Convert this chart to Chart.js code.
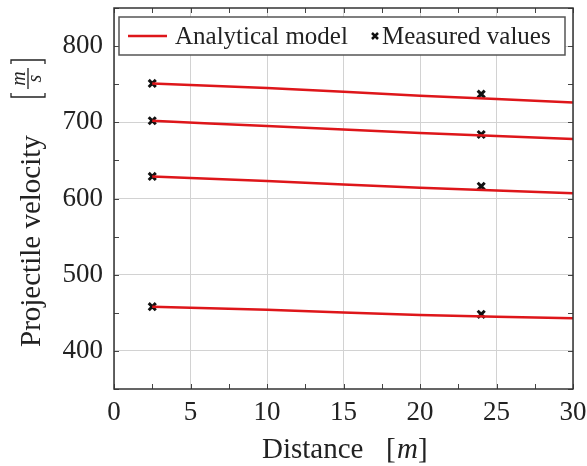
<!DOCTYPE html>
<html>
<head>
<meta charset="utf-8">
<script src="https://cdn.jsdelivr.net/npm/chart.js@4"></script>
<style>
  html, body { margin: 0; padding: 0; background: #fff; }
  #wrap { width: 587px; height: 466px; }
</style>
</head>
<body>
<div id="wrap"><canvas id="velocityChart" width="587" height="466"></canvas></div>
<script>
const modelX = [2.5, 10, 20, 30];
// analytical model, one curve per charge
const model1 = [751, 745, 735, 726];
const model2 = [702, 695, 686, 678];
const model3 = [629, 623, 614, 607];
const model4 = [458, 454, 447, 443];

// measured points
const measuredX = [2.5, 24];
const measured1 = [751, 737];
const measured2 = [702, 684];
const measured3 = [629, 616];
const measured4 = [458, 448];

const xTicks = [0, 5, 10, 15, 20, 25, 30];
const yTicks = [400, 500, 600, 700, 800];
const xMinor = [2.5, 7.5, 12.5, 17.5, 22.5, 27.5];
const yMinor = [350, 450, 550, 650, 750, 850];

const serif = "'Liberation Serif', 'DejaVu Serif', serif";
const red = 'rgb(222, 22, 26)';

function toPoints(xs, ys) {
    return xs.map((x, i) => ({ x: x, y: ys[i] }));
}

const modelSets = [model1, model2, model3, model4].map(ys => ({
    label: 'Analytical model',
    data: toPoints(modelX, ys),
    borderColor: red,
    borderWidth: 2.5,
    pointRadius: 0,
    fill: false,
    tension: 0.3
}));

const measuredSets = [measured1, measured2, measured3, measured4].map(ys => ({
    label: 'Measured values',
    data: toPoints(measuredX, ys),
    showLine: false,
    pointStyle: 'crossRot',
    pointRadius: 5,
    pointBorderWidth: 3,
    borderColor: '#111',
    backgroundColor: '#111'
}));

// frame, inner ticks (pgfplots style), axis titles and the boxed legend
const framePlugin = {
    id: 'frame',
    afterDatasetsDraw(chart) {
        const { ctx, chartArea: a, scales } = chart;
        ctx.save();
        ctx.strokeStyle = '#444';
        ctx.lineWidth = 1;
        const tick = 5;
        ctx.beginPath();
        xTicks.concat(xMinor).forEach(v => {
            const px = Math.round(scales.x.getPixelForValue(v)) + 0.5;
            ctx.moveTo(px, a.bottom); ctx.lineTo(px, a.bottom - tick);
            ctx.moveTo(px, a.top); ctx.lineTo(px, a.top + tick);
        });
        yTicks.concat(yMinor).forEach(v => {
            const py = Math.round(scales.y.getPixelForValue(v)) + 0.5;
            ctx.moveTo(a.left, py); ctx.lineTo(a.left + tick, py);
            ctx.moveTo(a.right, py); ctx.lineTo(a.right - tick, py);
        });
        ctx.stroke();

        ctx.lineWidth = 1.5;
        ctx.strokeStyle = '#333';
        ctx.strokeRect(a.left, a.top, a.right - a.left, a.bottom - a.top);

        // legend
        const lx = 119, ly = 17, lw = 446, lh = 38;
        ctx.fillStyle = '#fff';
        ctx.fillRect(lx, ly, lw, lh);
        ctx.lineWidth = 1.5;
        ctx.strokeStyle = '#555';
        ctx.strokeRect(lx, ly, lw, lh);
        const cy = 36;
        ctx.strokeStyle = red;
        ctx.lineWidth = 2.5;
        ctx.beginPath();
        ctx.moveTo(128, cy); ctx.lineTo(167, cy);
        ctx.stroke();
        ctx.strokeStyle = '#111';
        ctx.lineWidth = 2.5;
        ctx.beginPath();
        ctx.moveTo(372, cy - 3); ctx.lineTo(378, cy + 3);
        ctx.moveTo(372, cy + 3); ctx.lineTo(378, cy - 3);
        ctx.stroke();
        ctx.fillStyle = '#222';
        ctx.font = '25px ' + serif;
        ctx.textBaseline = 'alphabetic';
        ctx.fillText(modelSets[0].label, 175, 44);
        ctx.fillText(measuredSets[0].label, 382, 44);
        ctx.restore();
    },
    afterDraw(chart) {
        const { ctx } = chart;
        ctx.save();
        ctx.fillStyle = '#222';
        ctx.strokeStyle = '#222';
        ctx.textBaseline = 'alphabetic';

        // x title: Distance [m]
        ctx.font = '29px ' + serif;
        ctx.fillText('Distance', 262, 458);
        ctx.fillText('[', 386, 458);
        ctx.font = 'italic 29px ' + serif;
        ctx.fillText('m', 397, 458);
        ctx.font = '29px ' + serif;
        ctx.fillText(']', 418, 458);

        // y title: Projectile velocity [m/s] with stacked fraction
        ctx.translate(40, 347);
        ctx.rotate(-Math.PI / 2);
        ctx.font = '29px ' + serif;
        ctx.fillText('Projectile velocity', 0, 0);
        ctx.lineWidth = 1.3;
        ctx.beginPath();
        // brackets
        ctx.moveTo(254, -29); ctx.lineTo(250, -29); ctx.lineTo(250, 5); ctx.lineTo(254, 5);
        ctx.moveTo(283, -29); ctx.lineTo(287, -29); ctx.lineTo(287, 5); ctx.lineTo(283, 5);
        // fraction bar
        ctx.moveTo(258, -12); ctx.lineTo(279, -12);
        ctx.stroke();
        ctx.font = 'italic 20px ' + serif;
        ctx.textAlign = 'center';
        ctx.fillText('m', 268.5, -15);
        ctx.fillText('s', 268.5, 1);
        ctx.restore();
    }
};

const ctx = document.getElementById('velocityChart').getContext('2d');
new Chart(ctx, {
    type: 'line',
    data: { datasets: modelSets.concat(measuredSets) },
    options: {
        responsive: false,
        animation: false,
        layout: { padding: { left: 0, right: 14, top: 8, bottom: 0 } },
        plugins: { legend: { display: false }, tooltip: { enabled: false } },
        scales: {
            x: {
                type: 'linear',
                min: 0,
                max: 30,
                afterFit: s => { s.height = 77; s.paddingLeft = 0; s.paddingRight = 0; },
                afterBuildTicks: s => { s.ticks = xTicks.map(v => ({ value: v })); },
                grid: { color: '#d2d2d2', drawTicks: false },
                border: { display: false },
                ticks: { color: '#222', padding: 8, maxRotation: 0, font: { family: serif, size: 27 } }
            },
            y: {
                type: 'linear',
                min: 350,
                max: 850,
                afterFit: s => { s.width = 114; s.paddingTop = 0; s.paddingBottom = 0; },
                afterBuildTicks: s => { s.ticks = yTicks.map(v => ({ value: v })); },
                grid: { color: '#d2d2d2', drawTicks: false },
                border: { display: false },
                ticks: { color: '#222', padding: 11, font: { family: serif, size: 27 } }
            }
        }
    },
    plugins: [framePlugin]
});
</script>
</body>
</html>
